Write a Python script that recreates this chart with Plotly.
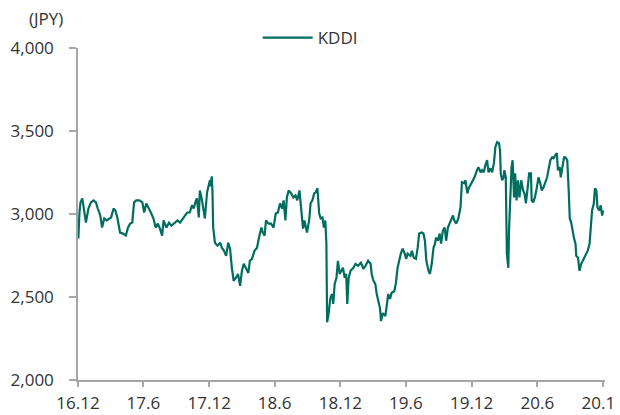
import plotly.graph_objects as go

dates = [
"2016-12-01","2016-12-02","2016-12-05","2016-12-08","2016-12-13","2016-12-18","2016-12-23","2016-12-30",
"2017-01-06","2017-01-13","2017-01-20","2017-01-25",
"2017-02-01","2017-02-06","2017-02-12","2017-02-19","2017-02-27",
"2017-03-03","2017-03-10","2017-03-15","2017-03-21","2017-03-28",
"2017-04-05","2017-04-13","2017-04-19","2017-04-25",
"2017-05-01","2017-05-06","2017-05-12","2017-05-21","2017-05-29",
"2017-06-03","2017-06-09","2017-06-15","2017-06-23","2017-06-29",
"2017-07-05","2017-07-11","2017-07-17","2017-07-23","2017-07-27",
"2017-08-04","2017-08-11","2017-08-18","2017-08-25",
"2017-09-04","2017-09-11","2017-09-18","2017-09-25",
"2017-10-01","2017-10-08","2017-10-14","2017-10-19","2017-10-25","2017-10-28",
"2017-11-02","2017-11-05","2017-11-10","2017-11-14","2017-11-19","2017-11-25",
"2017-12-03","2017-12-05","2017-12-08","2017-12-10","2017-12-12","2017-12-17","2017-12-24",
"2018-01-01","2018-01-05","2018-01-11","2018-01-17","2018-01-23","2018-01-28",
"2018-02-02","2018-02-07","2018-02-13","2018-02-19","2018-02-25",
"2018-03-02","2018-03-07","2018-03-13","2018-03-20","2018-03-24","2018-03-30",
"2018-04-06","2018-04-13","2018-04-18","2018-04-25","2018-04-29",
"2018-05-04","2018-05-08","2018-05-15","2018-05-22","2018-05-29",
"2018-06-04","2018-06-10","2018-06-16","2018-06-22","2018-06-26",
"2018-07-01","2018-07-05","2018-07-10","2018-07-17","2018-07-23","2018-07-29",
"2018-08-03","2018-08-09","2018-08-14","2018-08-19","2018-08-23","2018-08-30",
"2018-09-05","2018-09-09","2018-09-14","2018-09-19","2018-09-23","2018-09-28",
"2018-10-03","2018-10-07","2018-10-12","2018-10-16","2018-10-20","2018-10-23","2018-10-25","2018-10-29",
"2018-11-03","2018-11-08","2018-11-11","2018-11-15","2018-11-20","2018-11-24","2018-11-29",
"2018-12-04","2018-12-08","2018-12-13","2018-12-17","2018-12-20","2018-12-24","2018-12-29",
"2019-01-06","2019-01-12","2019-01-19","2019-01-27",
"2019-02-03","2019-02-09","2019-02-16","2019-02-23","2019-02-26",
"2019-03-03","2019-03-08","2019-03-12","2019-03-17","2019-03-21","2019-03-24","2019-03-29",
"2019-04-05","2019-04-09","2019-04-13","2019-04-18","2019-04-22","2019-04-30",
"2019-05-04","2019-05-09","2019-05-14","2019-05-18","2019-05-23","2019-05-28",
"2019-06-02","2019-06-06","2019-06-14","2019-06-18","2019-06-23","2019-06-29",
"2019-07-04","2019-07-08","2019-07-15","2019-07-20","2019-07-24","2019-07-28",
"2019-08-03","2019-08-07","2019-08-12","2019-08-17","2019-08-21","2019-08-24","2019-08-29",
"2019-09-03","2019-09-07","2019-09-12","2019-09-17","2019-09-21","2019-09-26",
"2019-10-01","2019-10-05","2019-10-10","2019-10-14","2019-10-19","2019-10-25","2019-10-31",
"2019-11-04","2019-11-10","2019-11-14","2019-11-19","2019-11-23","2019-11-28",
"2019-12-05","2019-12-09","2019-12-16","2019-12-20","2019-12-26","2019-12-30",
"2020-01-04","2020-01-08","2020-01-13","2020-01-17","2020-01-22","2020-01-27",
"2020-02-01","2020-02-05","2020-02-10","2020-02-15","2020-02-18","2020-02-20","2020-02-24","2020-02-28",
"2020-03-01","2020-03-05","2020-03-08","2020-03-12","2020-03-14","2020-03-17","2020-03-21","2020-03-24","2020-03-28","2020-03-31",
"2020-04-04","2020-04-08","2020-04-12","2020-04-17","2020-04-22","2020-04-26","2020-04-30",
"2020-05-05","2020-05-09","2020-05-14","2020-05-16","2020-05-20","2020-05-25","2020-05-30",
"2020-06-04","2020-06-09","2020-06-13","2020-06-18","2020-06-22","2020-06-28",
"2020-07-03","2020-07-07","2020-07-12","2020-07-16","2020-07-21","2020-07-25","2020-07-28",
"2020-08-02","2020-08-05","2020-08-09","2020-08-14","2020-08-18","2020-08-23","2020-08-27","2020-08-30",
"2020-09-03","2020-09-06","2020-09-11","2020-09-15","2020-09-17","2020-09-22","2020-09-26",
"2020-10-01","2020-10-05","2020-10-10","2020-10-15","2020-10-19","2020-10-24","2020-10-27","2020-10-31",
"2020-11-05","2020-11-08","2020-11-12","2020-11-15","2020-11-20","2020-11-24","2020-11-28","2020-12-01",
]

kddi_prices = [
2961,2852,3009,3070,3094,3009,2948,3033,
3070,3082,3070,3033,
2991,2918,2973,2961,2973,
2979,3033,3021,2973,2888,
2882,2870,2918,2942,
2948,3070,3082,3082,3070,
3009,3064,3033,3003,2973,
2918,2942,2912,2870,2961,
2918,2948,2930,2942,
2961,2948,2973,2991,
3009,3009,3052,3033,3082,3094,
2979,3142,3094,3033,2973,3130,
3203,3167,3227,3142,2918,2827,2809,
2827,2797,2779,2748,2827,2791,
2676,2597,2615,2639,2567,
2658,2700,2676,2645,2718,2730,
2779,2797,2852,2918,2888,
2870,2961,2942,2942,2918,
3003,3009,3064,3033,3082,
2961,3100,3142,3124,3100,3112,
3082,3142,3039,2912,2961,2888,
2961,3064,3082,3124,3130,3155,
3003,2973,2979,2918,2961,2821,2348,2397,
2494,2518,2458,2579,2615,2718,2639,
2658,2676,2615,2639,2458,2615,2658,
2676,2700,2688,2706,
2670,2688,2718,2700,2639,
2597,2579,2518,2476,2433,2355,2403,
2385,2458,2518,2488,2524,2536,
2579,2676,2736,2761,2791,2767,
2730,2761,2748,2779,2736,2730,
2797,2882,2888,2882,2839,2718,
2658,2639,2700,2797,2821,2858,2839,
2882,2821,2900,2918,2839,2918,
2942,2961,2991,2961,2942,2973,3039,
3191,3185,3203,3124,3155,3173,
3203,3221,3264,3282,3251,3264,
3251,3294,3324,3251,3276,3251,
3306,3403,3433,3427,3385,3245,3203,3221,
3264,3221,2761,2676,2900,3100,3282,3324,3100,3245,
3082,3203,3100,3203,3142,3124,3064,
3161,3245,3245,3082,3070,3100,3155,
3221,3185,3142,3161,3185,3221,
3282,3324,3342,3336,3355,3367,3264,
3282,3221,3282,3342,3342,3324,3142,2973,
2948,2900,2852,2821,2748,2736,2658,
2700,2718,2736,2767,2779,2821,2900,3021,
3064,3155,3142,3039,3021,3052,2991,3021,
]

tick_dates = ["2016-12-01","2017-06-01","2017-12-01","2018-06-01","2018-12-01",
              "2019-06-01","2019-12-01","2020-06-01","2020-12-01"]
tick_labels = ["16.12","17.6","17.12","18.6","18.12","19.6","19.12","20.6","20.12"]
y_ticks = [2000, 2500, 3000, 3500, 4000]
y_labels = ["2,000", "2,500", "3,000", "3,500", "4,000"]

FONT = "Open Sans"
TXT = "#333333"
AX = "#a6a6a6"

fig = go.Figure()
fig.add_trace(go.Scatter(
    x=dates, y=kddi_prices, mode="lines", name="KDDI",
    line=dict(color="#006e5f", width=2.2),
))

fig.update_layout(
    width=612, height=407,
    margin=dict(l=70, r=15, t=40, b=35),
    paper_bgcolor="white", plot_bgcolor="white",
    font=dict(family=FONT, size=17, color=TXT),
    showlegend=True,
    legend=dict(orientation="h", x=0.341, xanchor="left", y=1.03, yanchor="middle",
                font=dict(family=FONT, size=17, color=TXT), itemwidth=50,
                bgcolor="rgba(0,0,0,0)"),
    xaxis=dict(
        type="date", range=["2016-12-01", "2020-12-06"],
        tickvals=tick_dates, ticktext=tick_labels,
        showgrid=False, zeroline=False,
        showline=True, linecolor=AX, linewidth=1.5,
        ticks="outside", ticklen=5, tickcolor=AX, tickwidth=1.5,
        tickfont=dict(family=FONT, size=17, color=TXT),
        ticklabeloverflow="allow", ticklabelstandoff=2,
        automargin=False,
    ),
    yaxis=dict(
        range=[2000, 4000], tickvals=y_ticks, ticktext=y_labels,
        showgrid=False, zeroline=False,
        showline=True, linecolor=AX, linewidth=1.5,
        ticks="outside", ticklen=7, tickcolor=AX, tickwidth=1.5,
        tickfont=dict(family=FONT, size=17, color=TXT),
        ticklabelstandoff=12,
        automargin=False,
    ),
    annotations=[dict(text="(JPY)", xref="paper", yref="paper", x=-0.06, y=1.09,
                      xanchor="center", yanchor="middle", showarrow=False,
                      font=dict(family=FONT, size=17, color=TXT))],
)

fig.write_html("out.html")
